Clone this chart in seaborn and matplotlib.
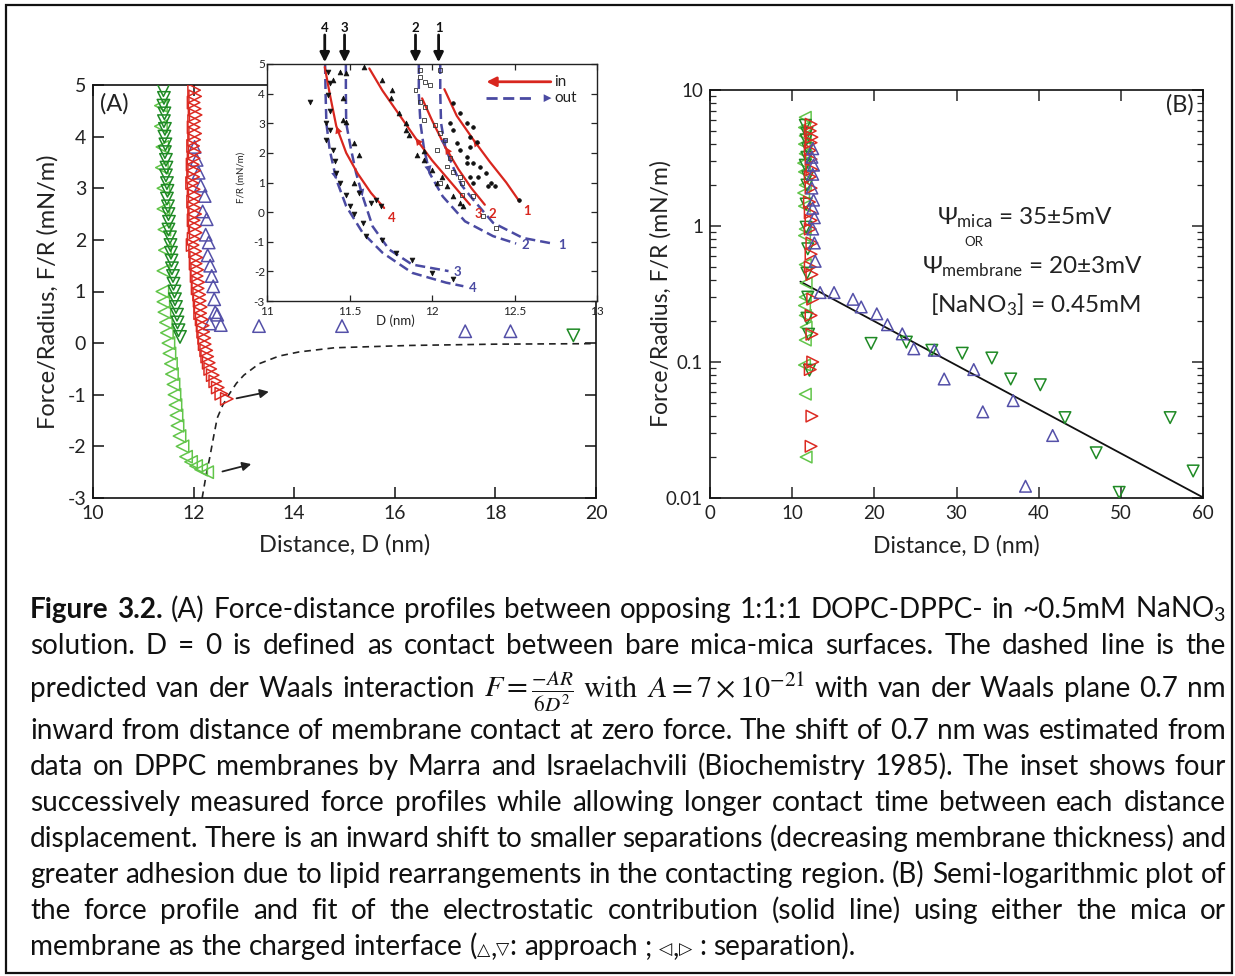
import numpy as np
import pandas as pd
import matplotlib
matplotlib.use('Agg')
import matplotlib.pyplot as plt
import seaborn as sns
from matplotlib.patches import Rectangle

sns.set_style('ticks')
plt.rcParams['font.family'] = ['Lato', 'DejaVu Sans']
plt.rcParams['axes.unicode_minus'] = False
plt.rcParams['mathtext.fontset'] = 'custom'
plt.rcParams['mathtext.rm'] = 'Lato'
plt.rcParams['mathtext.it'] = 'Lato:italic'
plt.rcParams['mathtext.bf'] = 'Lato:bold'
plt.rcParams['mathtext.fallback'] = 'stixsans'

# ---------------- data : panel A (main) ----------------
a_dkgreen_x = [11.40, 11.41, 11.40, 11.42, 11.41, 11.43, 11.42, 11.44, 11.43, 11.45, 11.46, 11.45,
               11.47, 11.48, 11.47, 11.49, 11.50, 11.51, 11.50, 11.53, 11.54, 11.55, 11.56, 11.57,
               11.59, 11.60, 11.62, 11.63, 11.65, 11.67, 11.68, 11.70, 11.73]
a_dkgreen_y = [4.90, 4.75, 4.60, 4.45, 4.30, 4.15, 4.00, 3.85, 3.70, 3.55, 3.40, 3.25, 3.10, 2.95,
               2.80, 2.65, 2.50, 2.35, 2.20, 2.05, 1.90, 1.75, 1.60, 1.45, 1.30, 1.15, 1.00, 0.85,
               0.70, 0.55, 0.40, 0.25, 0.12]
a_ltgreen_x = [11.35, 11.35, 11.38, 11.37, 11.40, 11.40, 11.42, 11.43, 11.40, 11.38, 11.40, 11.42,
               11.45, 11.47, 11.50, 11.52, 11.55, 11.57, 11.60, 11.62, 11.64, 11.66, 11.68, 11.72,
               11.78, 11.85, 11.95, 12.05, 12.15, 12.27]
a_ltgreen_y = [4.60, 4.20, 3.80, 3.40, 3.00, 2.60, 2.20, 1.80, 1.40, 1.00, 0.80, 0.60, 0.40, 0.20,
               0.00, -0.20, -0.40, -0.60, -0.80, -1.00, -1.20, -1.40, -1.60, -1.80, -2.00, -2.20,
               -2.30, -2.38, -2.45, -2.50]
a_red_x = [12.01, 12.03, 12.00, 12.02, 12.04, 12.01, 12.00, 12.03, 12.01, 11.99, 12.02, 12.00,
           11.98, 12.01, 11.99, 11.97, 12.00, 12.02, 11.99, 12.01, 12.03, 12.00, 12.02, 12.04,
           12.00, 11.98, 12.03, 12.05, 12.04, 12.07, 12.06, 12.09, 12.08, 12.11, 12.12, 12.14,
           12.13, 12.16, 12.18, 12.19, 12.21, 12.22, 12.25, 12.27, 12.30, 12.33, 12.38, 12.43,
           12.48, 12.55, 12.66]
a_red_y = [4.90, 4.78, 4.66, 4.54, 4.42, 4.30, 4.18, 4.06, 3.94, 3.82, 3.70, 3.58, 3.46, 3.34,
           3.22, 3.10, 2.98, 2.86, 2.74, 2.62, 2.50, 2.38, 2.26, 2.14, 2.02, 1.90, 1.78, 1.66,
           1.54, 1.42, 1.30, 1.18, 1.06, 0.94, 0.82, 0.70, 0.58, 0.46, 0.34, 0.22, 0.10, -0.02,
           -0.14, -0.26, -0.38, -0.50, -0.62, -0.74, -0.86, -0.98, -1.08]
a_blue_x = [12.02, 12.06, 12.10, 12.14, 12.22, 12.18, 12.26, 12.24, 12.30, 12.28, 12.33, 12.36,
            12.39, 12.41, 12.43, 12.47, 12.32, 12.54, 13.30, 14.95, 17.40, 18.30]
a_blue_y = [3.80, 3.55, 3.30, 3.05, 2.85, 2.55, 2.40, 2.10, 1.95, 1.70, 1.50, 1.30, 1.10, 0.85,
            0.60, 0.55, 0.38, 0.35, 0.33, 0.33, 0.23, 0.23]
a_far_green_x = [19.55]
a_far_green_y = [0.15]
vdw_x = [12.17, 12.25, 12.32, 12.40, 12.47, 12.58, 12.70, 12.85, 13.0, 13.3, 13.7, 14.1, 14.8,
         16.3, 18.0, 20.0]
vdw_y = [-3.0, -2.55, -2.22, -1.80, -1.45, -1.20, -1.00, -0.78, -0.62, -0.40, -0.25, -0.17,
         -0.09, -0.045, -0.02, -0.01]

# ---------------- data : inset ----------------
red_curves_x = [[12.075, 12.15, 12.25, 12.35, 12.45, 12.53],
                [11.94, 12.00, 12.08, 12.16, 12.24, 12.32],
                [11.62, 11.70, 11.80, 11.90, 12.00, 12.10, 12.23],
                [11.35, 11.38, 11.42, 11.48, 11.55, 11.63, 11.71]]
red_curves_y = [[4.15, 3.25, 2.45, 1.70, 1.00, 0.36],
                [3.84, 3.10, 2.20, 1.45, 0.80, 0.25],
                [4.85, 4.10, 3.30, 2.50, 1.75, 1.10, 0.25],
                [4.90, 4.00, 2.90, 2.00, 1.30, 0.65, 0.14]]
blue_curves_x = [[12.05, 12.05, 12.055, 12.08, 12.126, 12.18, 12.25, 12.37, 12.55, 12.73],
                 [11.92, 11.92, 11.93, 11.95, 11.985, 12.065, 12.20, 12.37, 12.51],
                 [11.478, 11.478, 11.48, 11.51, 11.54, 11.58, 11.64, 11.74, 11.88, 12.10],
                 [11.352, 11.355, 11.36, 11.38, 11.42, 11.48, 11.58, 11.70, 11.88, 12.085, 12.19]]
blue_curves_y = [[5.0, 4.0, 3.0, 2.2, 1.54, 0.90, 0.42, -0.36, -0.87, -1.06],
                 [5.0, 4.0, 3.0, 2.2, 1.32, 0.53, -0.31, -0.81, -1.06],
                 [5.0, 4.0, 3.0, 2.1, 1.32, 0.53, -0.48, -1.26, -1.77, -1.99],
                 [5.0, 4.0, 3.0, 2.1, 1.10, 0.20, -0.70, -1.37, -2.05, -2.38, -2.50]]
curve_labels = ['1', '2', '3', '4']
red_head_idx = [2, 2, 3, 2]
blue_head_idx = [3, 4, 5, 4]
step_x = [12.04, 11.90, 11.47, 11.35]
step_labels = ['1', '2', '3', '4']

in_dn_x = [11.26, 11.37, 11.38, 11.37, 11.38, 11.36, 11.36, 11.38, 11.40, 11.41, 11.42, 11.44,
           11.48, 11.50, 11.53, 11.58, 11.60, 11.56, 11.63, 11.66, 11.69, 11.70, 11.78, 11.88,
           12.00, 12.13]
in_dn_y = [3.73, 4.74, 4.35, 3.96, 3.40, 3.00, 2.44, 2.78, 2.10, 1.71, 1.32, 0.98, 0.59, 0.20,
           -0.08, -0.36, -0.81, 0.65, 0.31, 0.42, 0.20, -0.93, -1.37, -1.60, -2.05, -2.27]
in_up_x = [11.44, 11.48, 11.40, 11.46, 11.46, 11.48, 11.53, 11.56, 11.53, 11.59, 11.70, 11.76,
           11.75, 11.80, 11.84, 11.84, 11.86, 11.91, 11.95, 11.95, 12.00, 12.06, 12.09, 12.13,
           12.17, 12.19, 12.03]
in_up_y = [4.74, 4.69, 4.46, 3.84, 3.11, 3.05, 2.33, 1.94, 0.98, 4.91, 4.46, 4.12, 3.84, 3.34,
           3.00, 2.78, 2.61, 1.94, 2.05, 1.77, 1.43, 1.20, 0.87, 0.53, 0.31, 0.20, 0.98]
in_sq_x = [11.93, 11.93, 11.90, 11.96, 11.99, 11.93, 11.96, 11.95, 12.02, 12.05, 12.08, 12.03,
           12.11, 12.09, 12.13, 12.05, 12.17, 12.18, 12.18, 12.25, 12.31, 12.39, 12.05]
in_sq_y = [4.80, 4.57, 4.12, 4.40, 4.29, 3.73, 3.56, 3.11, 2.95, 2.67, 2.44, 2.10, 1.82, 1.54,
           1.37, 0.98, 1.20, 0.98, 0.59, 0.53, -0.14, -0.53, 4.80]
in_ci_x = [12.13, 12.17, 12.21, 12.25, 12.23, 12.27, 12.23, 12.21, 12.25, 12.29, 12.28, 12.33,
           12.34, 12.36, 12.38, 12.11, 12.13, 12.15, 12.17, 12.21, 12.23, 12.25, 12.53]
in_ci_y = [3.68, 3.34, 3.00, 2.89, 2.55, 2.38, 2.20, 1.85, 1.66, 1.54, 1.20, 1.32, 0.87, 0.98,
           0.87, 3.00, 2.78, 2.33, 2.10, 1.66, 1.20, 0.98, 0.42]

# ---------------- data : panel B ----------------
b_ltgreen_y = [6.3, 5.3, 4.6, 4.0, 3.4, 2.9, 2.5, 2.0, 1.75, 1.4, 0.95, 0.85, 0.52, 0.38, 0.30,
               0.26, 0.22, 0.18, 0.145, 0.095, 0.058, 0.020]
b_ltgreen_x = [11.6, 11.5, 11.6, 11.5, 11.6, 11.4, 11.5, 11.6, 11.4, 11.5, 11.6, 11.5, 11.6, 11.7,
               11.6, 11.5, 11.6, 11.7, 11.6, 11.5, 11.6, 11.7]
b_dkgreen_y = [5.5, 4.8, 4.3, 3.7, 3.2, 2.8, 2.3, 2.0, 1.45, 0.98, 0.68, 0.45, 0.30, 0.21, 0.16,
               0.087, 0.137, 0.14, 0.122, 0.116, 0.107, 0.075, 0.068, 0.039, 0.0215, 0.011,
               0.039, 0.0158]
b_dkgreen_x = [11.6, 11.8, 11.7, 11.9, 11.8, 11.6, 11.9, 11.8, 11.7, 11.7, 11.9, 11.8, 11.9, 11.8,
               12.0, 12.1, 19.6, 23.9, 27.0, 30.7, 34.3, 36.6, 40.2, 43.2, 47.0, 49.8, 56.0, 58.8]
b_red_y = [5.6, 5.0, 4.5, 4.1, 3.6, 3.1, 2.6, 2.3, 1.9, 1.5, 1.25, 1.1, 0.95, 0.75, 0.62, 0.50,
           0.44, 0.29, 0.22, 0.16, 0.10, 0.088, 0.040, 0.024]
b_red_x = [12.3, 12.2, 12.4, 12.3, 12.2, 12.3, 12.4, 12.2, 12.3, 12.1, 12.2, 12.3, 12.2, 12.4,
           12.3, 12.2, 12.4, 12.5, 12.3, 12.4, 12.5, 12.2, 12.4, 12.3]
b_blue_y = [3.7, 3.2, 2.8, 2.4, 1.9, 1.55, 1.35, 1.15, 0.95, 0.75, 0.55, 0.324, 0.324, 0.289,
            0.254, 0.226, 0.188, 0.161, 0.125, 0.122, 0.075, 0.088, 0.043, 0.052, 0.0122, 0.0288]
b_blue_x = [12.5, 12.4, 12.6, 12.5, 12.4, 12.6, 12.5, 12.7, 12.5, 12.7, 12.8, 13.4, 15.1, 17.4,
            18.4, 20.3, 21.6, 23.4, 24.8, 27.3, 28.5, 32.1, 33.2, 36.9, 38.4, 41.7]
fit_x = [11.0, 60.0]
fit_y = [0.39, 0.0101]

C_DKG = '#1f8a25'
C_LTG = '#62c54a'
C_RED = '#dc2a22'
C_BLU = '#5450a8'
C_IRED = '#d8261e'
C_IBLU = '#4a4aa2'
TXT = '#222222'

W, H = 1235, 976
fig = plt.figure(figsize=(W / 100, H / 100), dpi=100)


def box(l, t, r, b):
    return [l / W, 1 - b / H, (r - l) / W, (b - t) / H]


def pts(ax, x, y, marker, color, s=80, lw=1.1, filled=False, z=3):
    df = pd.DataFrame({'x': x, 'y': y})
    sns.scatterplot(data=df, x='x', y='y', ax=ax, marker=marker, s=s, color=color,
                    facecolor=color if filled else 'none', edgecolor=color,
                    linewidth=lw, legend=False, zorder=z)


def curve(ax, x, y, color, lw=1.5, ls='-'):
    df = pd.DataFrame({'x': x, 'y': y})
    sns.lineplot(data=df, x='x', y='y', ax=ax, sort=False, estimator=None, color=color,
                 lw=lw, linestyle=ls, zorder=2)


# ================= panel A =================
axA = fig.add_axes(box(93, 85, 596, 498))
pts(axA, a_ltgreen_x, a_ltgreen_y, '<', C_LTG)
pts(axA, a_dkgreen_x, a_dkgreen_y, 'v', C_DKG)
pts(axA, a_blue_x, a_blue_y, '^', C_BLU)
pts(axA, a_red_x, a_red_y, '>', C_RED)
pts(axA, a_far_green_x, a_far_green_y, 'v', C_DKG)
curve(axA, vdw_x, vdw_y, '#222222', lw=1.2, ls=(0, (4, 3)))
axA.annotate('', xy=(13.55, -0.93), xytext=(12.8, -1.08),
             arrowprops=dict(arrowstyle='-|>', color='#222222', lw=1.3, mutation_scale=13))
axA.annotate('', xy=(13.2, -2.33), xytext=(12.52, -2.5),
             arrowprops=dict(arrowstyle='-|>', color='#222222', lw=1.3, mutation_scale=13))
axA.set_xlim(10, 20)
axA.set_ylim(-3, 5)
axA.set_xticks(range(10, 21, 2))
axA.set_yticks(range(-3, 6))
axA.tick_params(direction='in', top=True, right=True, length=8, width=1.1, labelsize=14,
                colors='#111111', labelcolor=TXT, pad=5)
axA.set_xlabel('Distance, D (nm)', fontsize=17, color=TXT)
axA.set_ylabel('Force/Radius, F/R (mN/m)', fontsize=17, color=TXT)
axA.xaxis.set_label_coords(0.5, -0.088)
axA.yaxis.set_label_coords(-0.068, 0.5)
axA.text(0.014, 0.955, '(A)', transform=axA.transAxes, fontsize=17, color=TXT,
         ha='left', va='center')
for sp in axA.spines.values():
    sp.set_linewidth(1.2)
    sp.set_color('#111111')

# ================= inset =================
axI = fig.add_axes(box(267, 64, 597, 301))
axI.set_facecolor('white')
for i in range(4):
    curve(axI, blue_curves_x[i], blue_curves_y[i], C_IBLU, lw=1.8, ls=(0, (4, 2)))
    curve(axI, red_curves_x[i], red_curves_y[i], C_IRED, lw=1.6)
pts(axI, in_dn_x, in_dn_y, 'v', '#111111', s=12, lw=0.5, filled=True, z=4)
pts(axI, in_up_x, in_up_y, '^', '#111111', s=12, lw=0.5, filled=True, z=4)
pts(axI, in_sq_x, in_sq_y, 's', '#333333', s=8, lw=0.6, z=4)
pts(axI, in_ci_x, in_ci_y, 'o', '#111111', s=7, lw=0.5, filled=True, z=4)

for i in range(4):
    rx, ry = red_curves_x[i], red_curves_y[i]
    k = red_head_idx[i]
    axI.annotate('', xy=(rx[k], ry[k]), xytext=(rx[k + 1], ry[k + 1]),
                 arrowprops=dict(arrowstyle='-|>', color=C_IRED, lw=0, mutation_scale=13,
                                 shrinkA=0, shrinkB=0))
    bx, by = blue_curves_x[i], blue_curves_y[i]
    k = blue_head_idx[i]
    axI.annotate('', xy=(bx[k], by[k]), xytext=(bx[k - 1], by[k - 1]),
                 arrowprops=dict(arrowstyle='-|>', color=C_IBLU, lw=0, mutation_scale=13,
                                 shrinkA=0, shrinkB=0))
    axI.annotate(curve_labels[i], xy=(rx[-1], ry[-1]), xytext=(3, -7),
                 textcoords='offset points', color=C_IRED, fontsize=9.5, fontweight='bold',
                 ha='left', va='center')
    axI.annotate(curve_labels[i], xy=(bx[-1], by[-1]), xytext=(4, -1),
                 textcoords='offset points', color=C_IBLU, fontsize=9.5, fontweight='bold',
                 ha='left', va='center')

for xs, lab in zip(step_x, step_labels):
    axI.annotate('', xy=(xs, 5.06), xytext=(xs, 5.98), annotation_clip=False,
                 arrowprops=dict(arrowstyle='-|>', color='#111111', lw=2.0, mutation_scale=14,
                                 shrinkA=0, shrinkB=0))
    axI.text(xs, 6.22, lab, ha='center', va='center', fontsize=9.5, fontweight='bold',
             color='#111111', clip_on=False)

# legend of inset
axI.annotate('', xy=(0.665, 0.925), xytext=(0.86, 0.925), xycoords='axes fraction',
             arrowprops=dict(arrowstyle='-|>', color=C_IRED, lw=2, mutation_scale=14,
                             shrinkA=0, shrinkB=0))
axI.plot([0.665, 0.80], [0.856, 0.856], transform=axI.transAxes, color=C_IBLU, lw=2,
         ls=(0, (4, 2)))
axI.annotate('', xy=(0.862, 0.856), xytext=(0.80, 0.856), xycoords='axes fraction',
             arrowprops=dict(arrowstyle='-|>', color=C_IBLU, lw=0, mutation_scale=14,
                             shrinkA=0, shrinkB=0))
axI.text(0.87, 0.925, 'in', transform=axI.transAxes, fontsize=11, color=TXT, va='center')
axI.text(0.87, 0.856, 'out', transform=axI.transAxes, fontsize=11, color=TXT, va='center')

axI.set_xlim(11, 13)
axI.set_ylim(-3, 5)
axI.set_xticks([11, 11.5, 12, 12.5, 13])
axI.set_xticklabels(['11', '11.5', '12', '12.5', '13'])
axI.set_yticks(range(-3, 6))
axI.tick_params(direction='in', top=True, right=True, length=4, width=0.9, labelsize=8.5,
                labelcolor=TXT)
axI.tick_params(axis='x', pad=3.5)
axI.tick_params(axis='y', pad=1.5)
axI.set_xlabel('')
axI.set_ylabel('')
axI.text(0.39, -0.085, 'D (nm)', transform=axI.transAxes, fontsize=9.5, color=TXT,
         ha='center', va='center')
axI.text(-0.08, 0.52, 'F/R (mN/m)', transform=axI.transAxes, fontsize=7, color=TXT,
         ha='center', va='center', rotation=90)
for sp in axI.spines.values():
    sp.set_linewidth(1.0)
    sp.set_color('#222222')

# ================= panel B =================
axB = fig.add_axes(box(710, 90, 1203, 498))
axB.set_yscale('log')
pts(axB, b_ltgreen_x, b_ltgreen_y, '<', C_LTG, s=70)
pts(axB, b_dkgreen_x, b_dkgreen_y, 'v', C_DKG, s=70)
pts(axB, b_red_x, b_red_y, '>', C_RED, s=70)
pts(axB, b_blue_x, b_blue_y, '^', C_BLU, s=70)
curve(axB, fit_x, fit_y, '#111111', lw=1.3)
axB.set_xlim(0, 60)
axB.set_ylim(0.01, 10)
axB.set_xticks(range(0, 61, 10))
axB.set_yticks([0.01, 0.1, 1, 10])
axB.set_yticklabels(['0.01', '0.1', '1', '10'])
axB.tick_params(which='major', direction='in', top=True, right=True, length=8, width=1.1,
                labelsize=13.5, labelcolor=TXT, pad=5)
axB.tick_params(which='minor', direction='in', top=True, right=True, length=4, width=0.9)
axB.set_xlabel('Distance, D (nm)', fontsize=16.5, color=TXT)
axB.set_ylabel('Force/Radius, F/R (mN/m)', fontsize=16.5, color=TXT)
axB.xaxis.set_label_coords(0.5, -0.09)
axB.yaxis.set_label_coords(-0.078, 0.5)
for sp in axB.spines.values():
    sp.set_linewidth(1.2)
    sp.set_color('#111111')
axB.text(0.953, 0.963, '(B)', transform=axB.transAxes, fontsize=17, color=TXT,
         ha='center', va='center')
axB.text(0.64, 0.688, r'$\Psi_{\mathrm{mica}}$ = 35±5mV', transform=axB.transAxes,
         fontsize=17.5, color=TXT, ha='center', va='center')
axB.text(0.535, 0.628, 'OR', transform=axB.transAxes, fontsize=9.5, color=TXT,
         ha='center', va='center')
axB.text(0.655, 0.566, r'$\Psi_{\mathrm{membrane}}$ = 20±3mV', transform=axB.transAxes,
         fontsize=17.5, color=TXT, ha='center', va='center')
axB.text(0.66, 0.473, r'[$\mathrm{NaNO}_3$] = 0.45mM', transform=axB.transAxes,
         fontsize=17.5, color=TXT, ha='center', va='center')

# ================= caption =================
renderer = fig.canvas.get_renderer()


def words(s):
    return [[(w, 'n')] for w in s.split()]


cap_lines = [
    [[('Figure', 'b')], [('3.2.', 'b')]]
    + words('(A) Force-distance profiles between opposing 1:1:1 DOPC-DPPC- in ~0.5mM')
    + [[(r'$\mathrm{NaNO}_3$', 'n')]],
    words('solution. D = 0 is defined as contact between bare mica-mica surfaces. '
          'The dashed line is the'),
    words('predicted van der Waals interaction')
    + [[(r'$F=\frac{-AR}{6D^2}$', 'm')], [(r'$\mathrm{with}$', 'm')],
       [(r'$A=7\times10^{-21}$', 'm')]]
    + words('with van der Waals plane 0.7 nm'),
    words('inward from distance of membrane contact at zero force. '
          'The shift of 0.7 nm was estimated from'),
    words('data on DPPC membranes by Marra and Israelachvili (Biochemistry 1985). '
          'The inset shows four'),
    words('successively measured force profiles while allowing longer contact time '
          'between each distance'),
    words('displacement. There is an inward shift to smaller separations '
          '(decreasing membrane thickness) and'),
    words('greater adhesion due to lipid rearrangements in the contacting region. '
          '(B) Semi-logarithmic plot of'),
    words('the force profile and fit of the electrostatic contribution (solid line) '
          'using either the mica or'),
    words('membrane as the charged interface')
    + [[('(', 'n'), ('△', 't'), (',', 'n'), ('▽', 't'), (':', 'n')]]
    + words('approach ;') + [[('◁', 't'), (',', 'n'), ('▷', 't')]]
    + words(': separation).'),
]
cap_base = [618, 654, 697, 739, 775, 811, 847, 883, 919, 955]
cap_left, cap_right = 30, 1226


def style_kw(st, fs):
    if st == 'b':
        return dict(fontsize=fs, fontweight='bold')
    if st == 'm':
        return dict(fontsize=fs * 1.08, math_fontfamily='stix')
    if st == 't':
        return dict(fontsize=fs * 0.62, family='DejaVu Sans')
    return dict(fontsize=fs)


def width(txt, st, fs):
    t = fig.text(0, 0, txt, **style_kw(st, fs))
    w = t.get_window_extent(renderer).width
    t.remove()
    return w


def line_width(line, fs):
    ws = [sum(width(t, st, fs) for t, st in wd) for wd in line]
    sp = width('a a', 'n', fs) - width('aa', 'n', fs)
    return ws, sp


ws0, sp0 = line_width(cap_lines[-1], 15)
fs_cap = 15 * 827 / (sum(ws0) + sp0 * (len(ws0) - 1))

for li, line in enumerate(cap_lines):
    ws, sp = line_width(line, fs_cap)
    if li < len(cap_lines) - 1:
        gap = (cap_right - cap_left - sum(ws)) / (len(ws) - 1)
    else:
        gap = sp
    x = cap_left
    for wd, w in zip(line, ws):
        xr = x
        for t, st in wd:
            fig.text(xr / W, 1 - cap_base[li] / H, t, ha='left', va='baseline',
                     color='#111111', **style_kw(st, fs_cap))
            xr += width(t, st, fs_cap)
        x += w + gap

fig.add_artist(Rectangle((6 / W, 1 - 973 / H), 1226 / W, 968 / H, transform=fig.transFigure,
                         fill=False, lw=1.6, ec='#111111'))

fig.savefig('out.png', dpi=100)
